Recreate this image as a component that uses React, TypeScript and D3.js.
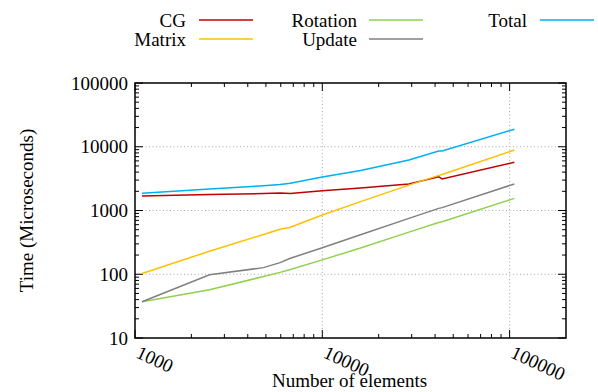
import * as d3 from 'd3';

// element counts (x) shared by every series
const elements = [1090, 2500, 4850, 5950, 6750, 10000, 16000, 29000, 41800, 43600, 106000];

const cgTimes = [1690, 1790, 1840, 1880, 1850, 2040, 2250, 2600, 3390, 3120, 5700];
const matrixTimes = [103, 230, 420, 507, 545, 850, 1380, 2500, 3560, 3680, 8890];
const rotationTimes = [37, 57, 92, 107, 119, 168, 258, 458, 650, 668, 1550];
const updateTimes = [37, 98, 127, 152, 178, 260, 417, 752, 1080, 1110, 2608];
const totalTimes = [1860, 2170, 2450, 2560, 2670, 3350, 4250, 6200, 8600, 8550, 18800];

const seriesNames = ['CG', 'Matrix', 'Rotation', 'Update', 'Total'];
const seriesColors = ['#c00000', '#ffc000', '#92d050', '#808080', '#00b0f0'];
const seriesValues = [cgTimes, matrixTimes, rotationTimes, updateTimes, totalTimes];

const xTickLabels = ['1000', '10000', '100000'];
const yTickLabels = ['10', '100', '1000', '10000', '100000'];

const W = 598;
const H = 392;
const FONT = "'Liberation Serif', 'Times New Roman', Times, serif";

export default function App() {
  const left = 135, right = 566, top = 83, bottom = 338;

  const x = d3.scaleLog().domain([1000, 200000]).range([left, right]);
  const y = d3.scaleLog().domain([10, 100000]).range([bottom, top]);

  const line = d3
    .line<[number, number]>()
    .x(d => x(d[0]))
    .y(d => y(d[1]));

  // minor ticks on log axes
  const xMinor: number[] = [];
  for (let p = 1000; p <= 100000; p *= 10) {
    for (let k = 2; k <= 9; k++) if (p * k < 200000) xMinor.push(p * k);
  }
  const yMinor: number[] = [];
  for (let p = 10; p < 100000; p *= 10) {
    for (let k = 2; k <= 9; k++) yMinor.push(p * k);
  }
  const xMajor = xTickLabels.map(Number);
  const yMajor = yTickLabels.map(Number);

  const legendCols = [
    { tx: 186, lx: 199 },
    { tx: 357, lx: 369 },
    { tx: 527, lx: 540 },
  ];
  const legendRows = [20, 39];

  return (
    <svg
      width={W}
      height={H}
      style={{ position: 'absolute', left: 0, top: 0, background: '#fff', fontFamily: FONT, fontSize: 19 }}
    >
      {/* grid */}
      <g stroke="#a8a8a8" strokeWidth={1} strokeDasharray="1,2.5">
        {xMajor.filter(v => v > 1000).map(v => (
          <line key={'gx' + v} x1={x(v)} x2={x(v)} y1={top} y2={bottom} />
        ))}
        {yMajor.filter(v => v > 10 && v < 100000).map(v => (
          <line key={'gy' + v} x1={left} x2={right} y1={y(v)} y2={y(v)} />
        ))}
      </g>

      {/* ticks */}
      <g stroke="#000" strokeWidth={1}>
        {xMinor.map(v => (
          <g key={'xm' + v}>
            <line x1={x(v)} x2={x(v)} y1={bottom} y2={bottom - 4} />
            <line x1={x(v)} x2={x(v)} y1={top} y2={top + 4} />
          </g>
        ))}
        {xMajor.map(v => (
          <g key={'xM' + v}>
            <line x1={x(v)} x2={x(v)} y1={bottom} y2={bottom - 8} />
            <line x1={x(v)} x2={x(v)} y1={top} y2={top + 8} />
          </g>
        ))}
        {yMinor.map(v => (
          <g key={'ym' + v}>
            <line x1={left} x2={left + 4} y1={y(v)} y2={y(v)} />
            <line x1={right} x2={right - 4} y1={y(v)} y2={y(v)} />
          </g>
        ))}
        {yMajor.map(v => (
          <g key={'yM' + v}>
            <line x1={left} x2={left + 8} y1={y(v)} y2={y(v)} />
            <line x1={right} x2={right - 8} y1={y(v)} y2={y(v)} />
          </g>
        ))}
      </g>

      {/* series */}
      {seriesValues.map((vals, i) => (
        <path
          key={seriesNames[i]}
          d={line(elements.map((n, j) => [n, vals[j]] as [number, number])) || ''}
          fill="none"
          stroke={seriesColors[i]}
          strokeWidth={1.5}
        />
      ))}

      {/* border */}
      <rect x={left} y={top} width={right - left} height={bottom - top} fill="none" stroke="#000" strokeWidth={1.5} />

      {/* y tick labels */}
      {yTickLabels.map(t => (
        <text key={'yl' + t} x={left - 7} y={y(+t)} dy="0.35em" textAnchor="end">
          {t}
        </text>
      ))}

      {/* x tick labels, rotated */}
      {xTickLabels.map(t => (
        <text key={'xl' + t} transform={`translate(${x(+t)},${bottom + 19}) rotate(25)`}>
          {t}
        </text>
      ))}

      {/* axis titles */}
      <text x={(left + right) / 2 - 1} y={387} textAnchor="middle">
        Number of elements
      </text>
      <text transform={`translate(33,${(top + bottom) / 2}) rotate(-90)`} textAnchor="middle">
        Time (Microseconds)
      </text>

      {/* legend */}
      {seriesNames.map((name, i) => {
        const col = legendCols[Math.floor(i / 2)];
        const ry = legendRows[i % 2];
        return (
          <g key={'lg' + name}>
            <text x={col.tx} y={ry} dy="0.35em" textAnchor="end">
              {name}
            </text>
            <line x1={col.lx} x2={col.lx + 54} y1={ry} y2={ry} stroke={seriesColors[i]} strokeWidth={1.5} />
          </g>
        );
      })}
    </svg>
  );
}
